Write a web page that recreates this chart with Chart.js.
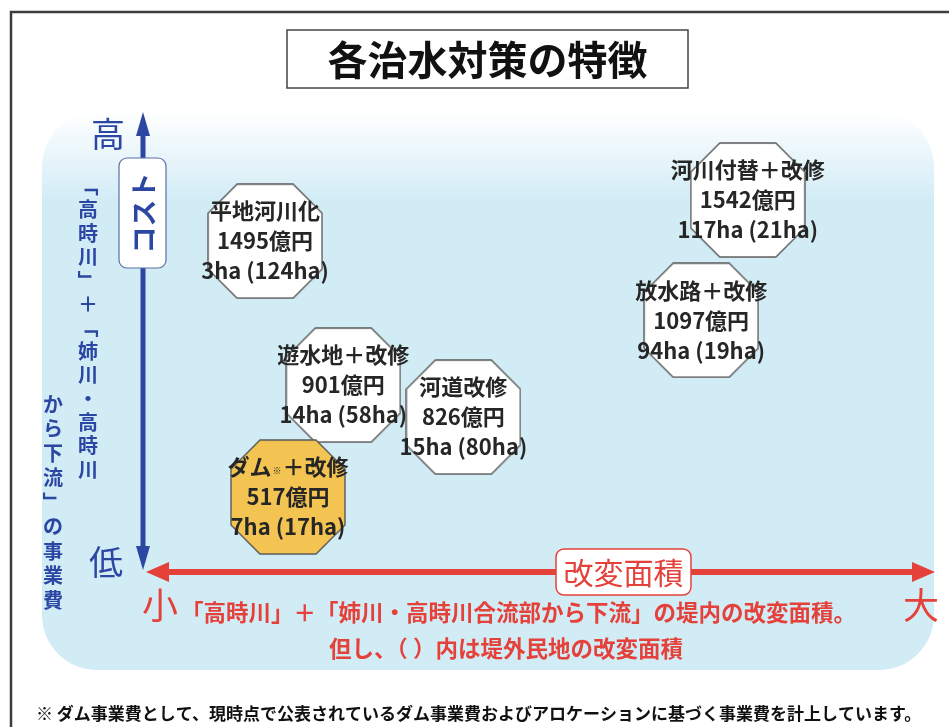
<!DOCTYPE html>
<html lang="ja">
<head>
  <meta charset="UTF-8">
  <title>各治水対策の特徴</title>
  <style>
    body { margin: 0; padding: 0; background: #fff; }
    #chart { display: block; }
  </style>
</head>
<body>
  <canvas id="chart" width="949" height="727"></canvas>

  <script src="https://cdn.jsdelivr.net/npm/chart.js"></script>
  <script>
    // 各対策（図中の八角形）
    const measures   = ['平地河川化', '遊水地＋改修', '河道改修', 'ダム＋改修', '河川付替＋改修', '放水路＋改修'];
    const costOku    = [1495, 901, 826, 517, 1542, 1097];      // 事業費（億円）
    const areaIn     = [3, 14, 15, 7, 117, 94];                // 堤内の改変面積（ha）
    const areaOut    = [124, 58, 80, 17, 21, 19];              // 堤外民地の改変面積（ha）
    // 概念図上の位置（軸 0〜100、図から読み取り）
    const areaScale  = [15.2, 25.1, 40.3, 18.1, 76.3, 70.4];   // 改変面積 小→大
    const costScale  = [72.4, 40.9, 33.9, 16.4, 81.4, 55.1];   // コスト 低→高
    const isDam      = [false, false, false, true, false, false];

    const FONT = '"Noto Sans CJK JP", "Noto Sans", sans-serif';

    // 八角形のマーカー
    function octagon(fill) {
      const s = 116, c = 29;
      const cv = document.createElement('canvas');
      cv.width = s; cv.height = s;
      const g = cv.getContext('2d');
      const a = 1, b = s - 1;
      g.beginPath();
      g.moveTo(a + c, a); g.lineTo(b - c, a); g.lineTo(b, a + c); g.lineTo(b, b - c);
      g.lineTo(b - c, b); g.lineTo(a + c, b); g.lineTo(a, b - c); g.lineTo(a, a + c);
      g.closePath();
      g.fillStyle = fill; g.fill();
      g.strokeStyle = '#5a5a5a'; g.lineWidth = 1.4; g.stroke();
      return cv;
    }
    const octWhite = octagon('#ffffff');
    const octDam = octagon('#f3c452');

    function roundRect(ctx, x, y, w, h, r) {
      ctx.beginPath();
      ctx.moveTo(x + r, y);
      ctx.arcTo(x + w, y, x + w, y + h, r);
      ctx.arcTo(x + w, y + h, x, y + h, r);
      ctx.arcTo(x, y + h, x, y, r);
      ctx.arcTo(x, y, x + w, y, r);
      ctx.closePath();
    }

    const decor = {
      id: 'decor',
      beforeDraw(chart) {
        const ctx = chart.ctx;
        const area = chart.chartArea;
        ctx.save();
        ctx.fillStyle = '#ffffff';
        ctx.fillRect(0, 0, chart.width, chart.height);

        // 外枠
        ctx.strokeStyle = '#3c3c3c';
        ctx.lineWidth = 2.5;
        ctx.beginPath();
        ctx.moveTo(11, 727); ctx.lineTo(11, 12); ctx.lineTo(949, 12);
        ctx.stroke();

        // 背景の水色領域
        const grad = ctx.createLinearGradient(0, 112, 0, 200);
        grad.addColorStop(0, 'rgba(210,236,246,0)');
        grad.addColorStop(1, 'rgba(210,236,246,1)');
        roundRect(ctx, 42, 112, 892, 558, 55);
        ctx.fillStyle = grad;
        ctx.fill();

        // タイトル
        ctx.fillStyle = '#ffffff';
        ctx.fillRect(287, 30, 401, 58);
        ctx.strokeStyle = '#444';
        ctx.lineWidth = 1.5;
        ctx.strokeRect(287, 30, 401, 58);
        ctx.fillStyle = '#111';
        ctx.font = 'bold 40px ' + FONT;
        ctx.textAlign = 'center';
        ctx.textBaseline = 'middle';
        ctx.fillText('各治水対策の特徴', 487.5, 60);

        // 縦軸（コスト）
        const ax = area.left - 2;
        const blue = '#2c47a3';
        ctx.strokeStyle = blue;
        ctx.fillStyle = blue;
        ctx.lineWidth = 5;
        ctx.beginPath();
        ctx.moveTo(ax, 132); ctx.lineTo(ax, 552);
        ctx.stroke();
        ctx.beginPath();
        ctx.moveTo(ax, 112); ctx.lineTo(ax - 7, 136); ctx.lineTo(ax + 7, 136); ctx.closePath();
        ctx.fill();
        ctx.beginPath();
        ctx.moveTo(ax, 570); ctx.lineTo(ax - 7, 546); ctx.lineTo(ax + 7, 546); ctx.closePath();
        ctx.fill();

        ctx.font = '34px ' + FONT;
        ctx.fillText('高', 108, 134);
        ctx.fillText('低', 106, 562);

        // コスト ラベル
        roundRect(ctx, 119, 158, 47, 110, 8);
        ctx.fillStyle = '#ffffff'; ctx.fill();
        ctx.strokeStyle = '#5b6fa8'; ctx.lineWidth = 1.2; ctx.stroke();
        ctx.save();
        ctx.translate(142.5, 213);
        ctx.rotate(-Math.PI / 2);
        ctx.fillStyle = blue;
        ctx.font = 'bold 27px ' + FONT;
        ctx.fillText('コスト', 0, 1);
        ctx.restore();

        // 縦書き説明
        ctx.fillStyle = blue;
        ctx.font = 'bold 20px ' + FONT;
        const col1 = ['「', '高', '時', '川', '」', '＋', '「', '姉', '川', '・', '高', '時', '川'];
        col1.forEach((ch, i) => {
          const y = 186 + i * 23.6;
          if (ch === '「' || ch === '」') {
            ctx.save(); ctx.translate(88, y); ctx.rotate(Math.PI / 2); ctx.fillText(ch, 0, 0); ctx.restore();
          } else {
            ctx.fillText(ch, 88, y);
          }
        });
        const col2 = ['か', 'ら', '下', '流', '」', 'の', '事', '業', '費'];
        col2.forEach((ch, i) => {
          const y = 404 + i * 24.5;
          if (ch === '」') {
            ctx.save(); ctx.translate(53, y); ctx.rotate(Math.PI / 2); ctx.fillText(ch, 0, 0); ctx.restore();
          } else {
            ctx.fillText(ch, 53, y);
          }
        });

        // 横軸（改変面積）
        const ay = area.bottom;
        const red = '#e5413b';
        ctx.strokeStyle = red;
        ctx.fillStyle = red;
        ctx.lineWidth = 6;
        ctx.beginPath();
        ctx.moveTo(area.left + 18, ay); ctx.lineTo(area.right - 18, ay);
        ctx.stroke();
        ctx.beginPath();
        ctx.moveTo(area.left + 1, ay); ctx.lineTo(area.left + 24, ay - 10); ctx.lineTo(area.left + 24, ay + 10); ctx.closePath();
        ctx.fill();
        ctx.beginPath();
        ctx.moveTo(area.right, ay); ctx.lineTo(area.right - 23, ay - 10); ctx.lineTo(area.right - 23, ay + 10); ctx.closePath();
        ctx.fill();

        roundRect(ctx, 556, 549, 135, 46, 8);
        ctx.fillStyle = '#ffffff'; ctx.fill();
        ctx.strokeStyle = red; ctx.lineWidth = 1.5; ctx.stroke();
        ctx.fillStyle = red;
        ctx.font = '30px ' + FONT;
        ctx.fillText('改変面積', 623.5, 573);

        ctx.font = '36px ' + FONT;
        ctx.fillText('小', 160, 605);
        ctx.fillText('大', 921, 605);

        ctx.font = 'bold 22.5px ' + FONT;
        ctx.textAlign = 'left';
        ctx.fillText('「高時川」＋「姉川・高時川合流部から下流」の堤内の改変面積。', 181, 612);
        ctx.textAlign = 'center';
        ctx.fillText('但し、（ ）内は堤外民地の改変面積', 506, 648);

        // 注記
        ctx.fillStyle = '#111';
        ctx.font = 'bold 17px ' + FONT;
        ctx.textAlign = 'left';
        ctx.fillText('※ ダム事業費として、現時点で公表されているダム事業費およびアロケーションに基づく事業費を計上しています。', 36, 714);
        ctx.restore();
      },
      afterDatasetsDraw(chart) {
        const ctx = chart.ctx;
        const pts = chart.getDatasetMeta(0).data;
        ctx.save();
        ctx.fillStyle = '#262626';
        ctx.textAlign = 'center';
        ctx.textBaseline = 'middle';
        pts.forEach((p, i) => {
          ctx.font = 'bold 22px ' + FONT;
          if (isDam[i]) {
            // ダム※＋改修
            const w1 = ctx.measureText('ダム').width;
            const w2 = ctx.measureText('＋改修').width;
            ctx.font = 'bold 9px ' + FONT;
            const ws = ctx.measureText('※').width + 2;
            let x = p.x - (w1 + ws + w2) / 2;
            ctx.textAlign = 'left';
            ctx.font = 'bold 22px ' + FONT;
            ctx.fillText('ダム', x, p.y - 30);
            ctx.font = 'bold 9px ' + FONT;
            ctx.fillText('※', x + w1 + 1, p.y - 26);
            ctx.font = 'bold 22px ' + FONT;
            ctx.fillText('＋改修', x + w1 + ws, p.y - 30);
            ctx.textAlign = 'center';
          } else {
            ctx.fillText(measures[i], p.x, p.y - 30);
          }
          ctx.fillText(costOku[i] + '億円', p.x, p.y);
          ctx.fillText(areaIn[i] + 'ha (' + areaOut[i] + 'ha)', p.x, p.y + 30);
        });
        ctx.restore();
      }
    };

    new Chart(document.getElementById('chart'), {
      type: 'scatter',
      data: {
        datasets: [{
          label: '各治水対策',
          data: areaScale.map((x, i) => ({ x: x, y: costScale[i] })),
          pointStyle: isDam.map(d => d ? octDam : octWhite),
          pointRadius: 58,
          pointHoverRadius: 58
        }]
      },
      options: {
        responsive: false,
        devicePixelRatio: 1,
        animation: false,
        events: [],
        layout: { autoPadding: false, padding: { left: 145, right: 14, top: 115, bottom: 155 } },
        plugins: { legend: { display: false }, tooltip: { enabled: false } },
        scales: {
          x: { type: 'linear', min: 0, max: 100, display: false },
          y: { type: 'linear', min: 0, max: 100, display: false }
        }
      },
      plugins: [decor]
    });
  </script>
</body>
</html>
